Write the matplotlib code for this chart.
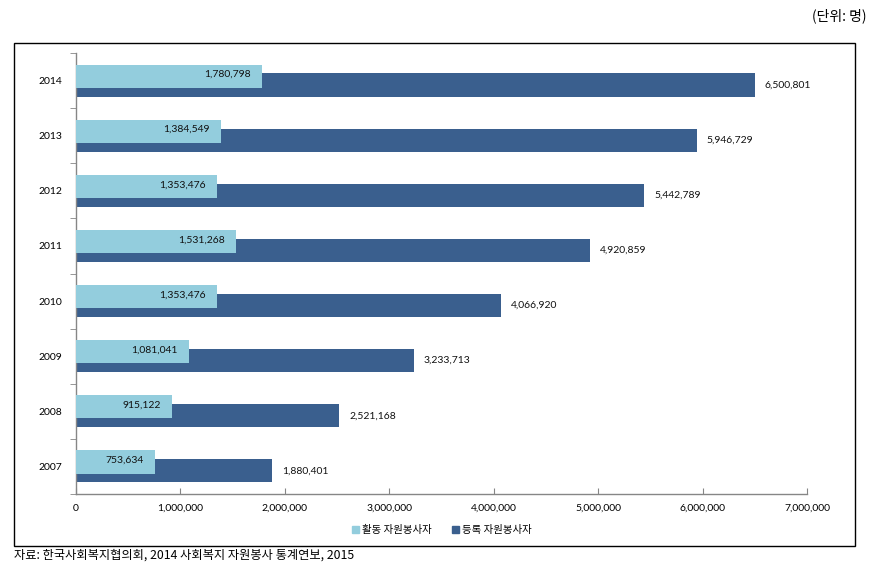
import matplotlib
matplotlib.use("Agg")
import matplotlib.pyplot as plt
from matplotlib.patches import Rectangle
from matplotlib.ticker import FixedLocator, FuncFormatter
import numpy as np

plt.rcParams['font.family'] = ['Lato', 'Noto Sans CJK KR', 'DejaVu Sans']

years = ['2007', '2008', '2009', '2010', '2011', '2012', '2013', '2014']
active = [753634, 915122, 1081041, 1353476, 1531268, 1353476, 1384549, 1780798]
registered = [1880401, 2521168, 3233713, 4066920, 4920859, 5442789, 5946729, 6500801]
series_names = ['활동 자원봉사자', '등록 자원봉사자']
xticks = [0, 1000000, 2000000, 3000000, 4000000, 5000000, 6000000, 7000000]

c_light = '#93CDDD'
c_dark = '#3A5F8E'
gray = '#868686'

W, H = 874, 577
fig = plt.figure(figsize=(W / 100, H / 100), dpi=100)

def fx(px):
    return px / W

def fy(py):
    return 1 - py / H

ax = fig.add_axes([fx(76), fy(494), fx(807) - fx(76), fy(53) - fy(494)])

y = np.arange(len(years))
h = 0.42
off = 0.08
ax.barh(y - off, registered, height=h, color=c_dark, zorder=2)
ax.barh(y + off, active, height=h, color=c_light, zorder=3)

for yi, a, r in zip(y, active, registered):
    ax.annotate(f'{a:,}', (a, yi + off + 0.03), xytext=(-8, 0), textcoords='offset points',
                ha='right', va='center', fontsize=7.5, color='#111111', zorder=4)
    ax.annotate(f'{r:,}', (r, yi - off), xytext=(7, 0), textcoords='offset points',
                ha='left', va='center', fontsize=7.5, color='#111111', zorder=4)

ax.set_xlim(0, 7000000)
ax.set_ylim(-0.5, len(years) - 0.5)
ax.set_yticks(y)
ax.set_yticklabels(years, fontsize=7.5)
ax.yaxis.set_minor_locator(FixedLocator(np.arange(-0.5, len(years), 1.0)))
ax.tick_params(axis='y', which='major', length=0, pad=10)
ax.tick_params(axis='y', which='minor', length=4, direction='out', color=gray)
ax.set_xticks(xticks)
ax.xaxis.set_major_formatter(FuncFormatter(lambda v, p: f'{int(v):,}'))
ax.tick_params(axis='x', which='major', length=4, direction='in', color=gray, labelsize=7.5, pad=7)

for s in ['top', 'right']:
    ax.spines[s].set_visible(False)
for s in ['left', 'bottom']:
    ax.spines[s].set_color(gray)
    ax.spines[s].set_linewidth(1.0)

# legend
hdl = [Rectangle((0, 0), 1, 1, color=c_light), Rectangle((0, 0), 1, 1, color=c_dark)]
fig.legend(hdl, series_names, loc='center', bbox_to_anchor=(fx(442), fy(530)), ncol=2,
           frameon=False, fontsize=7.5, handlelength=0.6, handleheight=0.6,
           handletextpad=0.3, columnspacing=2.0, prop={'family': ['Noto Sans CJK KR'], 'size': 7.5})

# outer box
fig.add_artist(Rectangle((fx(14), fy(546)), fx(855) - fx(14), fy(43) - fy(546),
                         transform=fig.transFigure, fill=False, edgecolor='black', linewidth=1.0))

fig.text(fx(866), fy(16), '(단위: 명)', ha='right', va='center', fontsize=10,
         family=['Noto Sans CJK KR', 'DejaVu Sans'])
fig.text(fx(14), fy(555), '자료: 한국사회복지협의회, 2014 사회복지 자원봉사 통계연보, 2015',
         ha='left', va='center', fontsize=8.8, family=['Noto Sans CJK KR', 'DejaVu Sans'])

fig.savefig('out.png', dpi=100)
